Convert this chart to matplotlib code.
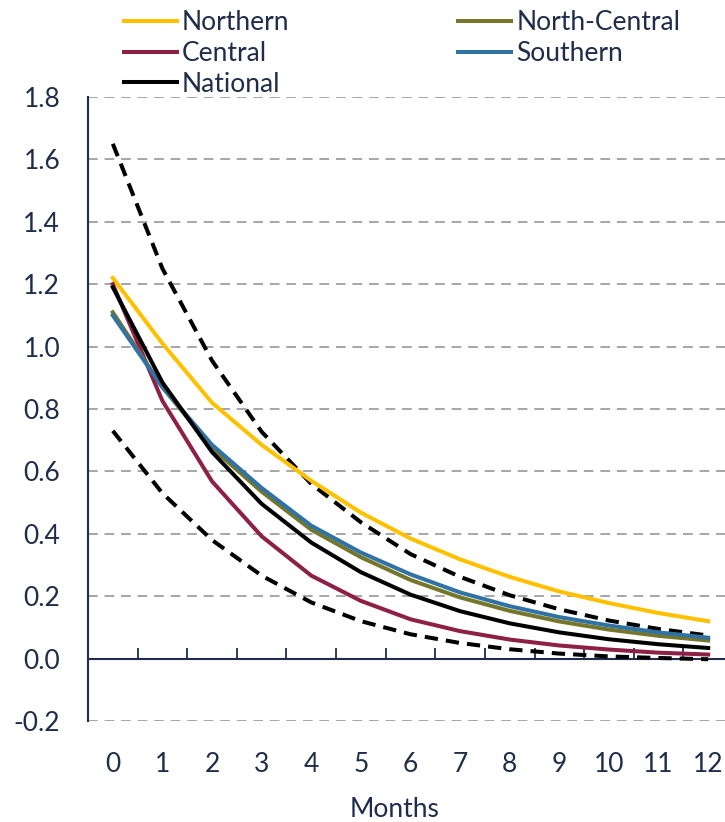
import matplotlib
matplotlib.use("Agg")
import matplotlib.pyplot as plt
import numpy as np

plt.rcParams['font.family'] = ['Lato', 'DejaVu Sans']

months = np.arange(13)

northern = [1.22, 1.01, 0.82, 0.685, 0.57, 0.468, 0.385, 0.318, 0.262, 0.215, 0.178, 0.146, 0.12]
north_central = [1.11, 0.87, 0.675, 0.535, 0.413, 0.325, 0.252, 0.196, 0.153, 0.119, 0.093, 0.073, 0.058]
central = [1.20, 0.826, 0.568, 0.392, 0.266, 0.185, 0.126, 0.088, 0.061, 0.042, 0.029, 0.019, 0.013]
southern = [1.10, 0.87, 0.685, 0.547, 0.426, 0.34, 0.27, 0.212, 0.168, 0.133, 0.106, 0.084, 0.067]
national = [1.19, 0.885, 0.662, 0.496, 0.372, 0.277, 0.205, 0.152, 0.113, 0.084, 0.062, 0.046, 0.034]
upper_band = [1.65, 1.25, 0.955, 0.727, 0.56, 0.437, 0.335, 0.262, 0.203, 0.158, 0.122, 0.095, 0.074]
lower_band = [0.73, 0.53, 0.38, 0.266, 0.18, 0.12, 0.078, 0.05, 0.03, 0.016, 0.007, 0.002, -0.002]

navy = '#1F2D4A'
lw = 2.9
fs = 19

fig = plt.figure(figsize=(7.25, 8.22), dpi=100)
ax = fig.add_axes([88 / 725, 101 / 822, 645 / 725, 624 / 822])

for y in np.arange(-0.2, 1.81, 0.2):
    if abs(y) > 1e-9:
        ax.axhline(y, color='#A6A6A6', lw=1.4, ls=(0, (5, 3.5)), zorder=1)
ax.axhline(0, color=navy, lw=1.5, zorder=2)

ax.plot(months, upper_band, color='black', lw=lw, ls=(0, (3.3, 2.0)), zorder=3)
ax.plot(months, lower_band, color='black', lw=lw, ls=(0, (3.3, 2.0)), zorder=3)
h_n, = ax.plot(months, northern, color='#FFC000', lw=lw, label='Northern', zorder=4)
h_c, = ax.plot(months, central, color='#8E1F45', lw=lw, label='Central', zorder=4)
h_nc, = ax.plot(months, north_central, color='#76762A', lw=lw, label='North-Central', zorder=4)
h_s, = ax.plot(months, southern, color='#2F72A3', lw=lw, label='Southern', zorder=4)
h_nat, = ax.plot(months, national, color='black', lw=lw, label='National', zorder=5)

ax.set_xlim(-0.5, 12.5)
ax.set_ylim(-0.2, 1.8)

for side in ['top', 'right', 'bottom']:
    ax.spines[side].set_visible(False)
ax.spines['left'].set_color(navy)
ax.spines['left'].set_linewidth(1.5)

ax.set_yticks(np.arange(-0.2, 1.81, 0.2))
ax.set_yticklabels([f'{v:.1f}' for v in np.arange(-0.2, 1.81, 0.2)])
ax.set_xticks(months)
ax.tick_params(axis='y', length=0, pad=20, labelsize=fs, labelcolor=navy)
ax.tick_params(axis='x', length=0, pad=22, labelsize=fs, labelcolor=navy)

# tick marks between categories on the zero line
zero_axis = ax.secondary_xaxis(0.1)
zero_axis.set_xticks(np.arange(0.5, 12.5, 1.0))
zero_axis.tick_params(direction='in', length=8, width=1.3, color=navy, labelbottom=False)
zero_axis.spines['bottom'].set_visible(False)

fig.text(395 / 725, 1 - 809 / 822, 'Months', ha='center', va='center', fontsize=fs, color=navy)

fig.legend(handles=[h_n, h_c, h_nat, h_nc, h_s], ncol=2, loc='upper left',
           bbox_to_anchor=(124 / 725, 1 - 10 / 822), frameon=False, fontsize=fs,
           handlelength=2.0, handletextpad=0.2, columnspacing=6.4, labelspacing=0.22,
           labelcolor=navy, borderpad=0, borderaxespad=0)

fig.savefig('out.png', dpi=100)
